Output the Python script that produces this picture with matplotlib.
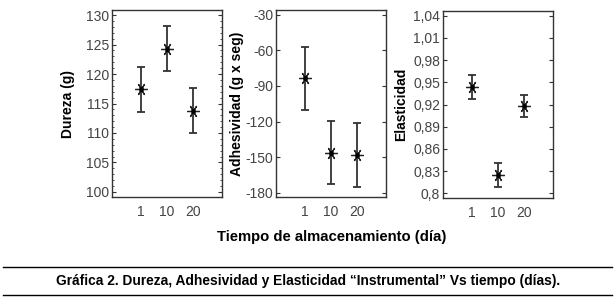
import numpy as np
import matplotlib.pyplot as plt
from matplotlib.lines import Line2D
from matplotlib.ticker import MultipleLocator

plt.rcParams['font.family'] = ['Liberation Sans', 'DejaVu Sans']
plt.rcParams['axes.unicode_minus'] = False

dias = ["1", "10", "20"]

dureza = [117.4, 124.3, 113.8]
dureza_err = [3.85, 3.8, 3.8]

adhesividad = [-83.6, -146.3, -148.2]
adhesividad_err = [26.7, 26.6, 27.2]

elasticidad = [0.944, 0.825, 0.918]
elasticidad_err = [0.0165, 0.0165, 0.0155]

dureza_ticks = [100, 105, 110, 115, 120, 125, 130]
adhes_ticks = [-180, -150, -120, -90, -60, -30]
elast_ticks = [0.80, 0.83, 0.86, 0.89, 0.92, 0.95, 0.98, 1.01, 1.04]
elast_labels = ["0,8", "0,83", "0,86", "0,89", "0,92", "0,95", "0,98", "1,01", "1,04"]

fig = plt.figure(figsize=(6.16, 3.04), dpi=100)

W, H = 616, 304
panels = [
    # left px, top px, bottom px
    (112, 10, 197),
    (276, 10, 197),
    (443, 11, 198),
]
axes = []
for left, top, bottom in panels:
    ax = fig.add_axes([left / W, 1 - bottom / H, 110 / W, (bottom - top) / H])
    axes.append(ax)

series = [
    (dureza, dureza_err, "Dureza (g)", (99.15, 130.85), -0.34),
    (adhesividad, adhesividad_err, "Adhesividad (g x seg)", (-183.6, -26.0), -0.29),
    (elasticidad, elasticidad_err, "Elasticidad", (0.7936, 1.0464), -0.32),
]

x = np.arange(1, len(dias) + 1)
for ax, (vals, errs, label, ylim, lx) in zip(axes, series):
    # asterisk marker like the original (6 arms, one vertical)
    ax.errorbar(x, vals, yerr=errs, fmt='none', ecolor='#333333',
                elinewidth=1.3, capsize=3, capthick=1.3)
    ax.plot(x, vals, linestyle='none', marker=(6, 2, 90), markersize=9,
            markeredgewidth=0.9, color='#222222')
    ax.plot(x, vals, linestyle='none', marker='o', markersize=2.5, color='black')
    ax.set_xlim(-0.115, 4.115)
    ax.set_ylim(*ylim)
    ax.set_xticks(x)
    ax.set_xticklabels(dias)
    ax.set_ylabel(label, fontsize=10, fontweight='bold', color='black')
    ax.yaxis.set_label_coords(lx, 0.5)
    ax.tick_params(axis='y', direction='in', left=True, right=True, length=3,
                   width=0.8, color='#333333', labelsize=10, labelcolor='#444444', pad=2)
    ax.tick_params(axis='x', length=0, labelsize=10, labelcolor='#444444', pad=6)
    for s in ax.spines.values():
        s.set_color('#333333')
        s.set_linewidth(1.0)

axes[0].set_yticks(dureza_ticks)
axes[0].yaxis.set_minor_locator(MultipleLocator(1))
axes[0].tick_params(axis='y', which='minor', direction='in', left=True, right=True,
                    length=1.5, width=0.6, color='#333333')
axes[1].set_yticks(adhes_ticks)
axes[2].set_yticks(elast_ticks)
axes[2].set_yticklabels(elast_labels)

fig.text(332 / W, 1 - 237 / H, "Tiempo de almacenamiento (día)", ha='center', va='center',
         fontsize=10.7, fontweight='bold', color='black')

for yy in (266.5, 295):
    fig.add_artist(Line2D([3 / W, 612 / W], [1 - yy / H, 1 - yy / H], color='black', linewidth=1.0))

fig.text(308 / W, 1 - 281 / H,
         "Gráfica 2. Dureza, Adhesividad y Elasticidad \u201cInstrumental\u201d Vs tiempo (días).",
         ha='center', va='center', fontsize=9.9, fontweight='bold', color='black')

fig.savefig("out.png", dpi=100)
